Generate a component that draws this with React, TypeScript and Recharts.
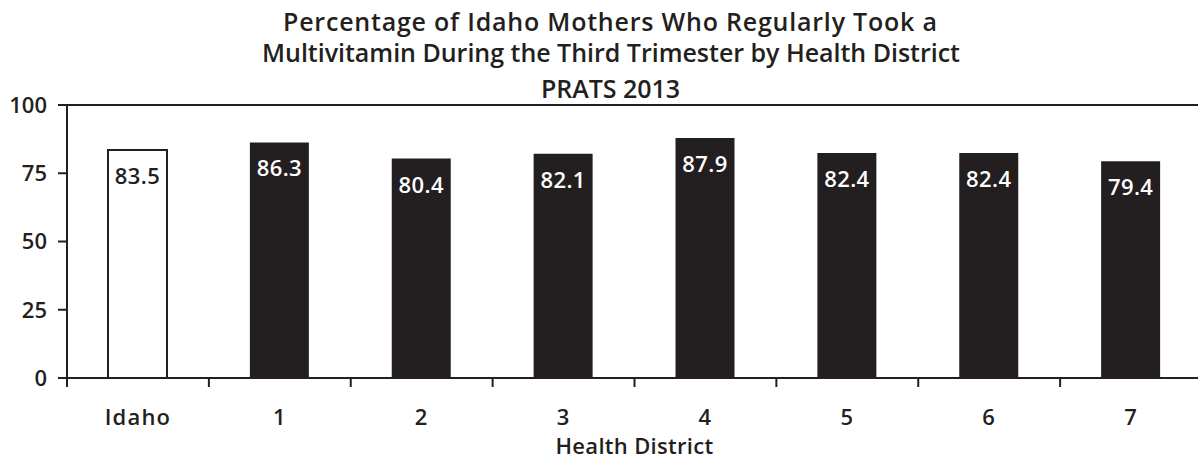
import React from 'react';
import { BarChart, Bar, XAxis, YAxis, ReferenceLine, LabelList, Cell } from 'recharts';

const categories = ['Idaho', '1', '2', '3', '4', '5', '6', '7'];
const values = [83.5, 86.3, 80.4, 82.1, 87.9, 82.4, 82.4, 79.4];
const yTicks = [0, 25, 50, 75, 100];
const titleLines = [
  'Percentage of Idaho Mothers Who Regularly Took a',
  'Multivitamin During the Third Trimester by Health District',
  'PRATS 2013',
];
const xAxisTitle = 'Health District';

const data = categories.map((c, i) => ({ name: c, value: values[i] }));

const INK = '#231f20';
const FONT = '"Open Sans", sans-serif';
const W = 600;

const XTick = (props: any) => {
  const { x, y, payload, index } = props;
  const off = payload.offset || 0;
  const last = index === categories.length - 1;
  return (
    <g>
      <line x1={x - off} x2={x - off} y1={y} y2={y + 9} stroke={INK} strokeWidth={2} />
      {last && <line x1={x + off} x2={x + off} y1={y} y2={y + 9} stroke={INK} strokeWidth={2} />}
      <text x={x} y={y + 47} textAnchor="middle" fill={INK} fontFamily={FONT} fontWeight={W} fontSize={22} letterSpacing={1.2}>
        {payload.value}
      </text>
    </g>
  );
};

const renderLabel = (props: any) => {
  const { x, y, width, value, index } = props;
  return (
    <text
      x={x + width / 2}
      y={y + 34}
      textAnchor="middle"
      fill={index === 0 ? INK : '#ffffff'}
      fontFamily={FONT}
      fontWeight={W}
      fontSize={22}
      letterSpacing={0.4}
    >
      {value}
    </text>
  );
};

const titleProps = { textAnchor: 'middle' as const, fill: INK, fontFamily: FONT, fontWeight: W, fontSize: 25, lengthAdjust: 'spacing' };

export default function App() {
  return (
    <div style={{ position: 'absolute', left: 0, top: 0, width: 1198, height: 459, overflow: 'hidden', background: '#fff' }}>
      <BarChart width={1215} height={459} data={data} margin={{ top: 105, right: 13, left: 0, bottom: 0 }}>
        <text x={610} y={31} textLength={654} {...titleProps}>{titleLines[0]}</text>
        <text x={611} y={62} textLength={698} {...titleProps}>{titleLines[1]}</text>
        <text x={610.5} y={98} textLength={139} {...titleProps}>{titleLines[2]}</text>
        <XAxis
          dataKey="name"
          height={81}
          tickLine={false}
          tickSize={0}
          tickMargin={0}
          axisLine={{ stroke: INK, strokeWidth: 2 }}
          tick={<XTick />}
          interval={0}
          label={{ value: xAxisTitle, position: 'insideBottom', offset: 5, fill: INK, fontFamily: FONT, fontWeight: W, fontSize: 22, letterSpacing: 0.3 }}
        />
        <YAxis
          width={67}
          domain={[0, 100]}
          ticks={yTicks}
          tickSize={9}
          tickMargin={11}
          axisLine={{ stroke: INK, strokeWidth: 2 }}
          tickLine={{ stroke: INK, strokeWidth: 2 }}
          tick={{ fill: INK, fontFamily: FONT, fontWeight: W, fontSize: 22 }}
        />
        <ReferenceLine y={100} stroke={INK} strokeWidth={2} ifOverflow="visible" />
        <Bar dataKey="value" barSize={59} isAnimationActive={false}>
          {data.map((d, i) => (
            <Cell key={d.name} fill={i === 0 ? '#ffffff' : INK} stroke={INK} strokeWidth={i === 0 ? 2 : 0} />
          ))}
          <LabelList dataKey="value" content={renderLabel} />
        </Bar>
      </BarChart>
    </div>
  );
}
